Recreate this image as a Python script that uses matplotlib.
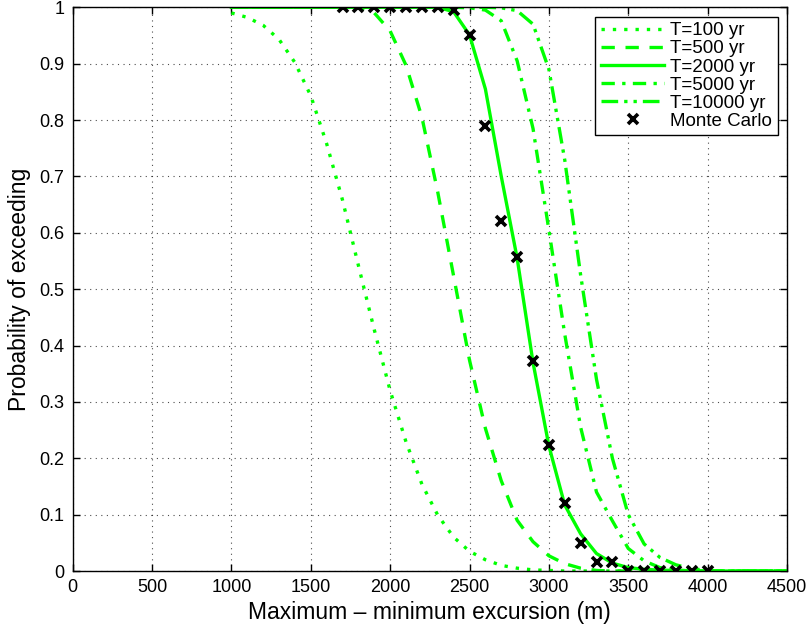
import numpy as np
import matplotlib
matplotlib.use("Agg")
import matplotlib.pyplot as plt

plt.rcParams['font.family'] = ['Liberation Sans', 'DejaVu Sans']

# excursion grid (m)
x = np.arange(1000, 4600, 100)

# probability of exceeding at 100 m steps
p_100 = [0.99, 0.982, 0.968, 0.943, 0.902, 0.843, 0.758, 0.658, 0.542, 0.428,
         0.320, 0.229, 0.154, 0.099, 0.060, 0.035, 0.020, 0.010, 0.005, 0.002,
         0.001, 0, 0, 0, 0, 0, 0, 0, 0, 0, 0, 0, 0, 0, 0, 0]
p_500 = [1, 1, 1, 1, 1, 1, 1, 1, 1, 0.99,
         0.958, 0.897, 0.805, 0.672, 0.523, 0.374, 0.253, 0.160, 0.090, 0.052,
         0.027, 0.013, 0.005, 0.001, 0, 0, 0, 0, 0, 0, 0, 0, 0, 0, 0, 0]
p_2000 = [1, 1, 1, 1, 1, 1, 1, 1, 1, 1,
          1, 1, 1, 1, 0.992, 0.951, 0.855, 0.70, 0.555, 0.37,
          0.222, 0.117, 0.066, 0.031, 0.014, 0.006, 0.003, 0.0015, 0.001, 0,
          0, 0, 0, 0, 0, 0]
p_5000 = [1, 1, 1, 1, 1, 1, 1, 1, 1, 1,
          1, 1, 1, 1, 1, 0.999, 0.995, 0.976, 0.905, 0.785,
          0.605, 0.42, 0.255, 0.14, 0.089, 0.040, 0.018, 0.006, 0.002, 0,
          0, 0, 0, 0, 0, 0]
p_10000 = [1, 1, 1, 1, 1, 1, 1, 1, 1, 1,
           1, 1, 1, 1, 1, 1, 1, 0.999, 0.994, 0.970,
           0.89, 0.729, 0.525, 0.34, 0.20, 0.10, 0.048, 0.024, 0.011, 0.004,
           0.001, 0, 0, 0, 0, 0]

# Monte Carlo estimates
mc_x = np.arange(1700, 4100, 100)
mc_p = [1, 1, 1, 1, 1, 1, 1, 0.995, 0.95, 0.79, 0.62, 0.557,
        0.373, 0.224, 0.12, 0.05, 0.016, 0.016, 0, 0, 0, 0, 0, 0]

green = '#00ff00'
lw = 2.4

fig = plt.figure(figsize=(8.11, 6.32), dpi=100)
ax = fig.add_axes([0.0896, 0.0965, 0.8808, 0.892])

ax.plot(x, p_100, color=green, lw=lw, linestyle=(0, (1, 2.4)),
        dash_capstyle='butt', label='T=100 yr')
ax.plot(x, p_500, color=green, lw=lw, linestyle=(0, (4, 3.2)), label='T=500 yr')
ax.plot(x, p_2000, color=green, lw=lw, linestyle='-', label='T=2000 yr')
ax.plot(x, p_5000, color=green, lw=lw, linestyle=(0, (4, 2.2, 1, 2.2)),
        label='T=5000 yr')
ax.plot(x, p_10000, color=green, lw=lw, linestyle=(0, (5, 1.8, 1, 1.8, 1, 1.8)),
        label='T=10000 yr')
ax.plot(mc_x, mc_p, linestyle='none', marker='x', color='black', ms=6.5,
        mew=2.6, label='Monte Carlo')

ax.set_xlim(0, 4500)
ax.set_ylim(0, 1)
ax.set_xticks(np.arange(0, 4501, 500))
ax.set_yticks(np.arange(0, 1.01, 0.1))
ax.set_yticklabels(['0', '0.1', '0.2', '0.3', '0.4', '0.5', '0.6', '0.7',
                    '0.8', '0.9', '1'])
ax.grid(True, color='black', linestyle=(0, (1, 4)), linewidth=0.8, alpha=0.7)
ax.tick_params(direction='in', top=True, right=True, length=5, width=1,
               labelsize=13, pad=6)
for s in ax.spines.values():
    s.set_linewidth(1)

ax.set_xlabel('Maximum \u2013 minimum excursion (m)', fontsize=16.5, labelpad=3)
ax.set_ylabel('Probability of exceeding', fontsize=16.5, labelpad=6)

leg = ax.legend(loc='upper right', fontsize=13.5, frameon=True, fancybox=False,
                edgecolor='black', framealpha=1, borderpad=0.3,
                labelspacing=0.05, handlelength=3.4, handletextpad=0.3,
                borderaxespad=0.5)
leg.get_frame().set_linewidth(1)

fig.savefig('out.png', dpi=100)
